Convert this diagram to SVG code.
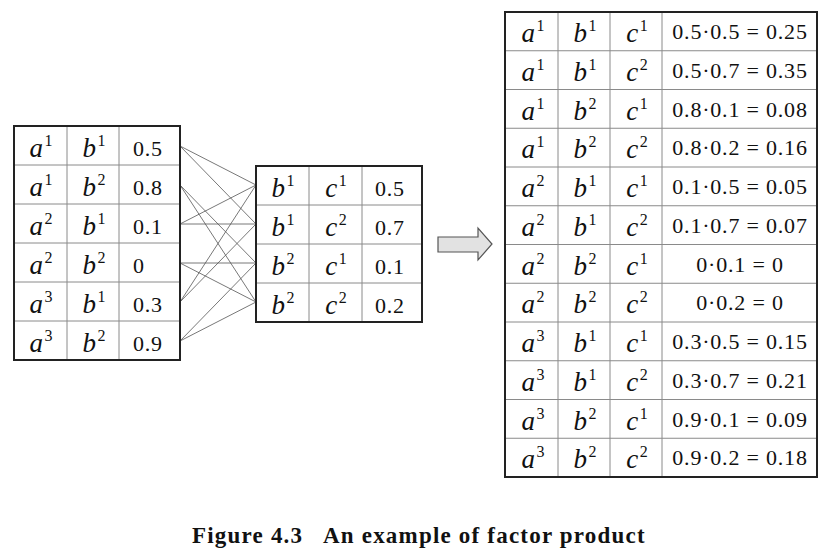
<svg xmlns="http://www.w3.org/2000/svg" width="826" height="556" viewBox="0 0 826 556">
<style>
.outer{fill:#fff;stroke:#222;stroke-width:2}
.grid{stroke:#8a8a8a;stroke-width:1}
.conn{stroke:#555;stroke-width:0.8;fill:none}
.v{font-family:"Liberation Serif",serif;font-style:italic;font-size:27px;fill:#111;text-anchor:middle}
.s{font-style:normal;font-size:16px}
.n{font-family:"Liberation Serif",serif;font-size:22px;fill:#111;letter-spacing:0.8px}
.p{font-family:"Liberation Serif",serif;font-size:22px;fill:#111;text-anchor:middle;letter-spacing:0.8px}
.cap{font-family:"Liberation Serif",serif;font-weight:bold;font-size:23px;fill:#111;letter-spacing:1.2px}
</style>

<g id="connectors">
<line class="conn" x1="180" y1="146" x2="256" y2="185"/>
<line class="conn" x1="180" y1="146" x2="256" y2="224"/>
<line class="conn" x1="180" y1="185" x2="256" y2="263"/>
<line class="conn" x1="180" y1="185" x2="256" y2="302"/>
<line class="conn" x1="180" y1="224" x2="256" y2="185"/>
<line class="conn" x1="180" y1="224" x2="256" y2="224"/>
<line class="conn" x1="180" y1="263" x2="256" y2="263"/>
<line class="conn" x1="180" y1="263" x2="256" y2="302"/>
<line class="conn" x1="180" y1="302" x2="256" y2="185"/>
<line class="conn" x1="180" y1="302" x2="256" y2="224"/>
<line class="conn" x1="180" y1="341" x2="256" y2="263"/>
<line class="conn" x1="180" y1="341" x2="256" y2="302"/>
</g>

<g id="table-ab">
<rect class="outer" x="14" y="126" width="166" height="234"/>
<line class="grid" x1="67" y1="126" x2="67" y2="360"/>
<line class="grid" x1="119" y1="126" x2="119" y2="360"/>
<line class="grid" x1="14" y1="165" x2="180" y2="165"/>
<line class="grid" x1="14" y1="204" x2="180" y2="204"/>
<line class="grid" x1="14" y1="243" x2="180" y2="243"/>
<line class="grid" x1="14" y1="282" x2="180" y2="282"/>
<line class="grid" x1="14" y1="321" x2="180" y2="321"/>
<rect x="14" y="126" width="166" height="234" fill="none" stroke="#222" stroke-width="2"/>
<text class="v" x="41" y="157">a<tspan class="s" dx="1.5" dy="-11">1</tspan></text>
<text class="v" x="94" y="157">b<tspan class="s" dx="1.5" dy="-11">1</tspan></text>
<text class="n" x="133" y="156">0.5</text>
<text class="v" x="41" y="196">a<tspan class="s" dx="1.5" dy="-11">1</tspan></text>
<text class="v" x="94" y="196">b<tspan class="s" dx="1.5" dy="-11">2</tspan></text>
<text class="n" x="133" y="195">0.8</text>
<text class="v" x="41" y="235">a<tspan class="s" dx="1.5" dy="-11">2</tspan></text>
<text class="v" x="94" y="235">b<tspan class="s" dx="1.5" dy="-11">1</tspan></text>
<text class="n" x="133" y="234">0.1</text>
<text class="v" x="41" y="274">a<tspan class="s" dx="1.5" dy="-11">2</tspan></text>
<text class="v" x="94" y="274">b<tspan class="s" dx="1.5" dy="-11">2</tspan></text>
<text class="n" x="133" y="273">0</text>
<text class="v" x="41" y="313">a<tspan class="s" dx="1.5" dy="-11">3</tspan></text>
<text class="v" x="94" y="313">b<tspan class="s" dx="1.5" dy="-11">1</tspan></text>
<text class="n" x="133" y="312">0.3</text>
<text class="v" x="41" y="352">a<tspan class="s" dx="1.5" dy="-11">3</tspan></text>
<text class="v" x="94" y="352">b<tspan class="s" dx="1.5" dy="-11">2</tspan></text>
<text class="n" x="133" y="351">0.9</text>
</g>

<g id="table-bc">
<rect class="outer" x="256" y="166" width="166" height="156"/>
<line class="grid" x1="309" y1="166" x2="309" y2="322"/>
<line class="grid" x1="362" y1="166" x2="362" y2="322"/>
<line class="grid" x1="256" y1="205" x2="422" y2="205"/>
<line class="grid" x1="256" y1="244" x2="422" y2="244"/>
<line class="grid" x1="256" y1="283" x2="422" y2="283"/>
<rect x="256" y="166" width="166" height="156" fill="none" stroke="#222" stroke-width="2"/>
<text class="v" x="283" y="197">b<tspan class="s" dx="1.5" dy="-11">1</tspan></text>
<text class="v" x="336" y="197">c<tspan class="s" dx="1.5" dy="-11">1</tspan></text>
<text class="n" x="375" y="196">0.5</text>
<text class="v" x="283" y="236">b<tspan class="s" dx="1.5" dy="-11">1</tspan></text>
<text class="v" x="336" y="236">c<tspan class="s" dx="1.5" dy="-11">2</tspan></text>
<text class="n" x="375" y="235">0.7</text>
<text class="v" x="283" y="275">b<tspan class="s" dx="1.5" dy="-11">2</tspan></text>
<text class="v" x="336" y="275">c<tspan class="s" dx="1.5" dy="-11">1</tspan></text>
<text class="n" x="375" y="274">0.1</text>
<text class="v" x="283" y="314">b<tspan class="s" dx="1.5" dy="-11">2</tspan></text>
<text class="v" x="336" y="314">c<tspan class="s" dx="1.5" dy="-11">2</tspan></text>
<text class="n" x="375" y="313">0.2</text>
</g>

<g id="arrow">
<polygon points="438,237 478,237 478,228 492,244 478,260 478,252 438,252" fill="#e2e2e2" stroke="#555" stroke-width="1.2"/>
</g>

<g id="table-abc">
<rect class="outer" x="505" y="12" width="312" height="465"/>
<line class="grid" x1="558" y1="12" x2="558" y2="477"/>
<line class="grid" x1="610" y1="12" x2="610" y2="477"/>
<line class="grid" x1="662" y1="12" x2="662" y2="477"/>
<line class="grid" x1="505" y1="50.75" x2="817" y2="50.75"/>
<line class="grid" x1="505" y1="89.5" x2="817" y2="89.5"/>
<line class="grid" x1="505" y1="128.25" x2="817" y2="128.25"/>
<line class="grid" x1="505" y1="167" x2="817" y2="167"/>
<line class="grid" x1="505" y1="205.75" x2="817" y2="205.75"/>
<line class="grid" x1="505" y1="244.5" x2="817" y2="244.5"/>
<line class="grid" x1="505" y1="283.25" x2="817" y2="283.25"/>
<line class="grid" x1="505" y1="322" x2="817" y2="322"/>
<line class="grid" x1="505" y1="360.75" x2="817" y2="360.75"/>
<line class="grid" x1="505" y1="399.5" x2="817" y2="399.5"/>
<line class="grid" x1="505" y1="438.25" x2="817" y2="438.25"/>
<rect x="505" y="12" width="312" height="465" fill="none" stroke="#222" stroke-width="2"/>

<text class="v" x="533" y="42">a<tspan class="s" dx="1.5" dy="-11">1</tspan></text>
<text class="v" x="585" y="42">b<tspan class="s" dx="1.5" dy="-11">1</tspan></text>
<text class="v" x="637" y="42">c<tspan class="s" dx="1.5" dy="-11">1</tspan></text>
<text class="p" x="740" y="39">0.5·0.5 = 0.25</text>

<text class="v" x="533" y="80.75">a<tspan class="s" dx="1.5" dy="-11">1</tspan></text>
<text class="v" x="585" y="80.75">b<tspan class="s" dx="1.5" dy="-11">1</tspan></text>
<text class="v" x="637" y="80.75">c<tspan class="s" dx="1.5" dy="-11">2</tspan></text>
<text class="p" x="740" y="77.75">0.5·0.7 = 0.35</text>

<text class="v" x="533" y="119.5">a<tspan class="s" dx="1.5" dy="-11">1</tspan></text>
<text class="v" x="585" y="119.5">b<tspan class="s" dx="1.5" dy="-11">2</tspan></text>
<text class="v" x="637" y="119.5">c<tspan class="s" dx="1.5" dy="-11">1</tspan></text>
<text class="p" x="740" y="116.5">0.8·0.1 = 0.08</text>

<text class="v" x="533" y="158.25">a<tspan class="s" dx="1.5" dy="-11">1</tspan></text>
<text class="v" x="585" y="158.25">b<tspan class="s" dx="1.5" dy="-11">2</tspan></text>
<text class="v" x="637" y="158.25">c<tspan class="s" dx="1.5" dy="-11">2</tspan></text>
<text class="p" x="740" y="155.25">0.8·0.2 = 0.16</text>

<text class="v" x="533" y="197">a<tspan class="s" dx="1.5" dy="-11">2</tspan></text>
<text class="v" x="585" y="197">b<tspan class="s" dx="1.5" dy="-11">1</tspan></text>
<text class="v" x="637" y="197">c<tspan class="s" dx="1.5" dy="-11">1</tspan></text>
<text class="p" x="740" y="194">0.1·0.5 = 0.05</text>

<text class="v" x="533" y="235.75">a<tspan class="s" dx="1.5" dy="-11">2</tspan></text>
<text class="v" x="585" y="235.75">b<tspan class="s" dx="1.5" dy="-11">1</tspan></text>
<text class="v" x="637" y="235.75">c<tspan class="s" dx="1.5" dy="-11">2</tspan></text>
<text class="p" x="740" y="232.75">0.1·0.7 = 0.07</text>

<text class="v" x="533" y="274.5">a<tspan class="s" dx="1.5" dy="-11">2</tspan></text>
<text class="v" x="585" y="274.5">b<tspan class="s" dx="1.5" dy="-11">2</tspan></text>
<text class="v" x="637" y="274.5">c<tspan class="s" dx="1.5" dy="-11">1</tspan></text>
<text class="p" x="740" y="271.5">0·0.1 = 0</text>

<text class="v" x="533" y="313.25">a<tspan class="s" dx="1.5" dy="-11">2</tspan></text>
<text class="v" x="585" y="313.25">b<tspan class="s" dx="1.5" dy="-11">2</tspan></text>
<text class="v" x="637" y="313.25">c<tspan class="s" dx="1.5" dy="-11">2</tspan></text>
<text class="p" x="740" y="310.25">0·0.2 = 0</text>

<text class="v" x="533" y="352">a<tspan class="s" dx="1.5" dy="-11">3</tspan></text>
<text class="v" x="585" y="352">b<tspan class="s" dx="1.5" dy="-11">1</tspan></text>
<text class="v" x="637" y="352">c<tspan class="s" dx="1.5" dy="-11">1</tspan></text>
<text class="p" x="740" y="349">0.3·0.5 = 0.15</text>

<text class="v" x="533" y="390.75">a<tspan class="s" dx="1.5" dy="-11">3</tspan></text>
<text class="v" x="585" y="390.75">b<tspan class="s" dx="1.5" dy="-11">1</tspan></text>
<text class="v" x="637" y="390.75">c<tspan class="s" dx="1.5" dy="-11">2</tspan></text>
<text class="p" x="740" y="387.75">0.3·0.7 = 0.21</text>

<text class="v" x="533" y="429.5">a<tspan class="s" dx="1.5" dy="-11">3</tspan></text>
<text class="v" x="585" y="429.5">b<tspan class="s" dx="1.5" dy="-11">2</tspan></text>
<text class="v" x="637" y="429.5">c<tspan class="s" dx="1.5" dy="-11">1</tspan></text>
<text class="p" x="740" y="426.5">0.9·0.1 = 0.09</text>

<text class="v" x="533" y="468.25">a<tspan class="s" dx="1.5" dy="-11">3</tspan></text>
<text class="v" x="585" y="468.25">b<tspan class="s" dx="1.5" dy="-11">2</tspan></text>
<text class="v" x="637" y="468.25">c<tspan class="s" dx="1.5" dy="-11">2</tspan></text>
<text class="p" x="740" y="465.25">0.9·0.2 = 0.18</text>
</g>

<g id="caption">
<text class="cap" x="192" y="543">Figure 4.3</text>
<text class="cap" x="323" y="543">An example of factor product</text>
</g>
</svg>
